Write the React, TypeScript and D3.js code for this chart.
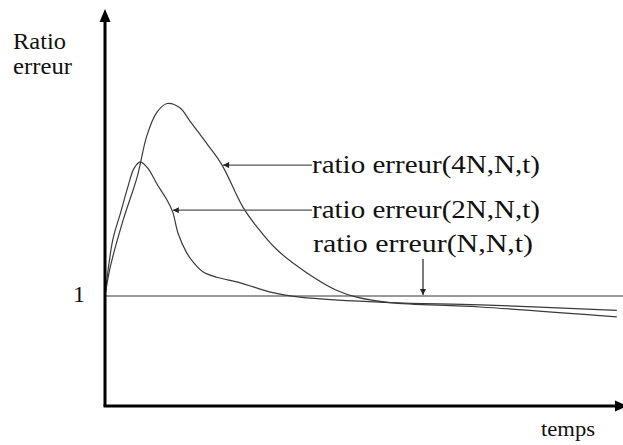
import React from "react";
import * as d3 from "d3";

// Error ratio curves over time (t in arbitrary units, ratio dimensionless)
const t4N = [0, 1, 3.5, 6.2, 8.1, 10, 12, 14.5, 16.4, 19.9, 22.6, 26.6, 29.3, 33.2, 39, 44.8, 48.6, 55, 72.4, 98.8];
const ratio4N = [1, 1.26, 1.69, 2.08, 2.46, 2.67, 2.75, 2.71, 2.59, 2.37, 2.19, 1.81, 1.63, 1.42, 1.21, 1.05, 0.99, 0.94, 0.9, 0.81];

const t2N = [0, 1.5, 2.9, 4.4, 5.6, 6.8, 8.3, 10, 12, 13.1, 14.1, 15.8, 17, 18.9, 21.6, 26.1, 32.4, 37.6, 55, 72.4, 98.8];
const ratio2N = [1, 1.51, 1.74, 1.99, 2.16, 2.22, 2.16, 2.02, 1.87, 1.76, 1.57, 1.39, 1.31, 1.22, 1.17, 1.12, 1.03, 0.99, 0.94, 0.92, 0.87];

const tNN = [0, 100];
const ratioNN = [1, 1];

const seriesLabels = ["ratio erreur(4N,N,t)", "ratio erreur(2N,N,t)", "ratio erreur(N,N,t)"];
const yTickValues = [1];
const yTickLabels = ["1"];
const yTitle = ["Ratio", "erreur"];
const xTitle = "temps";

const W = 623;
const H = 445;
const x0 = 105;
const yBase = 406;

const x = d3.scaleLinear().domain([0, 100]).range([x0, 623]);
const y = d3.scaleLinear().domain([0, 3.6]).range([yBase, 10]);

type Pt = [number, number];
const zip = (a: number[], b: number[]): Pt[] => a.map((v, i) => [v, b[i]]);

const line = d3
  .line<Pt>()
  .x((d) => x(d[0]))
  .y((d) => y(d[1]))
  .curve(d3.curveCatmullRom.alpha(0.5));

const font = "'Liberation Serif', 'Times New Roman', serif";

function valueAt(ts: number[], vs: number[], t: number) {
  const i = d3.bisectRight(ts, t) - 1;
  const j = Math.min(i + 1, ts.length - 1);
  if (i === j) return vs[i];
  const f = (t - ts[i]) / (ts[j] - ts[i]);
  return vs[i] + f * (vs[j] - vs[i]);
}

export default function App() {
  const labelX = 312;
  const a4t = 22.6;
  const a4y = y(valueAt(t4N, ratio4N, a4t));
  const a2t = 12.9;
  const a2y = y(valueAt(t2N, ratio2N, a2t));
  const aNx = 423;
  const aNy = y(1);

  return (
    <div style={{ position: "fixed", left: 0, top: 0, width: W, height: H, background: "#fff" }}>
      <svg width={W} height={H} viewBox={`0 0 ${W} ${H}`} style={{ display: "block" }}>
        <defs>
          <marker id="ah" viewBox="0 0 10 10" refX="10" refY="5" markerWidth="7" markerHeight="6" orient="auto-start-reverse" markerUnits="userSpaceOnUse">
            <path d="M0,0 L10,5 L0,10 z" fill="#222" />
          </marker>
        </defs>

        {/* reference level ratio = 1 */}
        <path d={line(zip(tNN, ratioNN)) || ""} fill="none" stroke="#777" strokeWidth={1.6} />

        {/* curves */}
        <path d={line(zip(t2N, ratio2N)) || ""} fill="none" stroke="#3a3a3a" strokeWidth={1.2} />
        <path d={line(zip(t4N, ratio4N)) || ""} fill="none" stroke="#3a3a3a" strokeWidth={1.2} />

        {/* axes */}
        <line x1={x0} y1={yBase} x2={x0} y2={20} stroke="#000" strokeWidth={3} />
        <path d={`M${x0},9 L${x0 - 5.5},22 L${x0 + 5.5},22 z`} fill="#000" />
        <line x1={x0 - 1.5} y1={yBase} x2={616} y2={yBase} stroke="#000" strokeWidth={3} />
        <path d={`M628,${yBase} L615,${yBase - 5.5} L615,${yBase + 5.5} z`} fill="#000" />

        {/* y tick label */}
        {yTickValues.map((v, i) => (
          <text key={i} x={73} y={y(v) + 6} fontFamily={font} fontSize={24} fill="#111">
            {yTickLabels[i]}
          </text>
        ))}

        {/* axis titles */}
        <text x={13} y={49} fontFamily={font} fontSize={23} fill="#111" textLength={53} lengthAdjust="spacingAndGlyphs">
          {yTitle[0]}
        </text>
        <text x={13} y={74} fontFamily={font} fontSize={23} fill="#111" textLength={59} lengthAdjust="spacingAndGlyphs">
          {yTitle[1]}
        </text>
        <text x={541} y={436} fontFamily={font} fontSize={22} fill="#111" textLength={54} lengthAdjust="spacingAndGlyphs">
          {xTitle}
        </text>

        {/* series annotations */}
        <line x1={labelX} y1={a4y} x2={x(a4t) + 1} y2={a4y} stroke="#555" strokeWidth={1.3} markerEnd="url(#ah)" />
        <text x={labelX} y={a4y + 8} fontFamily={font} fontSize={26} fill="#111" textLength={228} lengthAdjust="spacingAndGlyphs">
          {seriesLabels[0]}
        </text>

        <line x1={labelX} y1={a2y} x2={x(a2t) + 1} y2={a2y} stroke="#555" strokeWidth={1.3} markerEnd="url(#ah)" />
        <text x={labelX} y={a2y + 8} fontFamily={font} fontSize={26} fill="#111" textLength={228} lengthAdjust="spacingAndGlyphs">
          {seriesLabels[1]}
        </text>

        <text x={313} y={252} fontFamily={font} fontSize={26} fill="#111" textLength={220} lengthAdjust="spacingAndGlyphs">
          {seriesLabels[2]}
        </text>
        <line x1={aNx} y1={259} x2={aNx} y2={aNy - 1} stroke="#333" strokeWidth={1.3} markerEnd="url(#ah)" />
      </svg>
    </div>
  );
}
